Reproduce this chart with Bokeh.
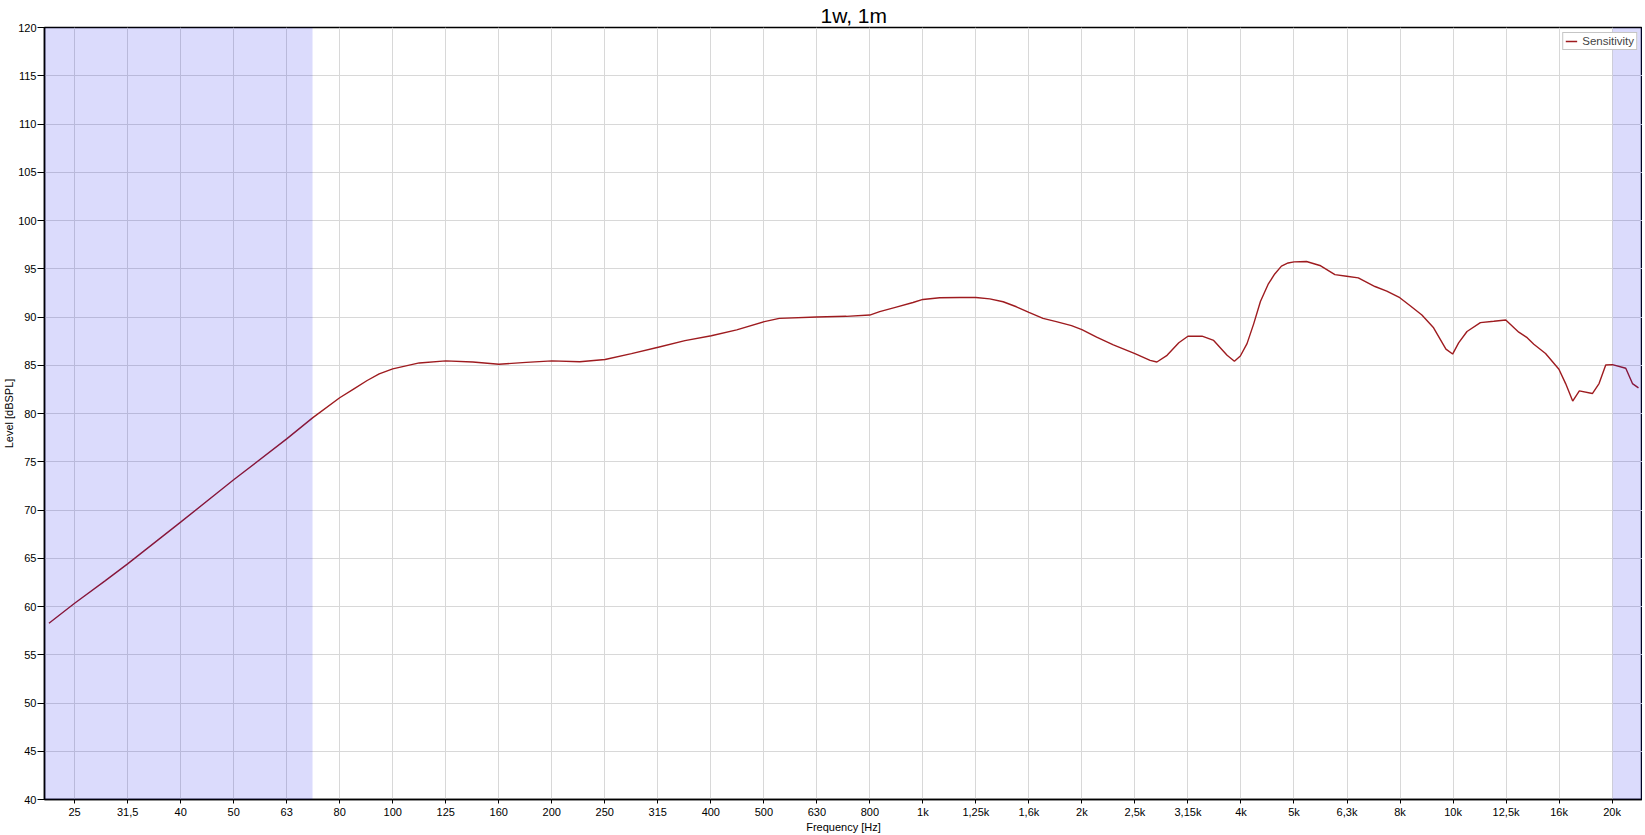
from bokeh.plotting import figure
from bokeh.models import Range1d, FixedTicker, BoxAnnotation, Legend, LegendItem
from bokeh.embed import file_html
from bokeh.resources import INLINE

# ---- data ----
FREQ = [22.47, 25.12, 28.67, 31.62, 39.81, 50.12, 63.10, 70.6, 79.43, 84.5, 89.5, 94.3,
        100, 112.2, 125.9, 141.6, 158.6, 178.6, 199.8, 225.3, 251.5, 282.1, 316.8, 355.8,
        399, 445.5, 502.4, 536, 631, 717, 794, 829, 891, 958, 1000, 1076, 1174, 1259,
        1337, 1417, 1501, 1585, 1685, 1785, 1907, 1995, 2127, 2287, 2512, 2683, 2763,
        2888, 3039, 3162, 3362, 3536, 3748, 3869, 3970,
        4087, 4207, 4332, 4478, 4610, 4746, 4885, 5015, 5291, 5608, 5987, 6299, 6627,
        7124, 7499, 7936, 8302, 8735, 9190, 9696, 9981, 10246, 10625, 11261, 11935,
        12573, 13305, 13798, 14204, 14945, 15839, 16307, 16814, 17308, 18316, 18855,
        19409, 19981, 21174, 21798, 22377]
LEVEL = [58.27, 60.34, 62.66, 64.42, 68.74, 73.13, 77.37, 79.55, 81.63, 82.56, 83.42, 84.11,
         84.63, 85.24, 85.45, 85.34, 85.10, 85.30, 85.45, 85.37, 85.60, 86.20, 86.87, 87.55,
         88.06, 88.67, 89.52, 89.86, 90.00, 90.07, 90.20, 90.55, 91.03, 91.50, 91.82, 91.99,
         92.02, 92.02, 91.88, 91.58, 91.06, 90.48, 89.86, 89.52, 89.11, 88.70, 87.91, 87.12,
         86.20, 85.51, 85.34, 86.03, 87.33, 88.01, 88.01, 87.57, 86.03, 85.41, 85.96,
         87.24, 89.29, 91.60, 93.37, 94.46, 95.27, 95.60, 95.71, 95.75, 95.34,
         94.39, 94.22, 94.05, 93.16, 92.69, 92.00, 91.16, 90.20, 88.88, 86.67, 86.16, 87.31,
         88.50, 89.42, 89.56, 89.69, 88.43, 87.86, 87.18, 86.22, 84.59, 83.10, 81.29, 82.35,
         82.07, 83.10, 85.03, 85.07, 84.69, 83.10, 82.65]

X_TICK_LABELS = ["25", "31,5", "40", "50", "63", "80", "100", "125", "160", "200", "250",
                 "315", "400", "500", "630", "800", "1k", "1,25k", "1,6k", "2k", "2,5k",
                 "3,15k", "4k", "5k", "6,3k", "8k", "10k", "12,5k", "16k", "20k"]
X_TICK_EXP = list(range(14, 44))          # ticks at 10**(n/10)
Y_TICKS = list(range(40, 121, 5))
X_LIMITS = (22.04, 22770)
Y_LIMITS = (40, 120)
BAND_LOW_END = 70.6
BAND_HIGH_START = 20000
TITLE = "1w, 1m"
SERIES = "Sensitivity"

FONT = "Liberation Sans"
LINE_COLOR = "#9E1B1F"

x_ticks = [10 ** (n / 10) for n in X_TICK_EXP]

p = figure(frame_width=1598, frame_height=772, x_axis_type="log",
           x_range=Range1d(*X_LIMITS), y_range=Range1d(*Y_LIMITS),
           output_backend="svg", toolbar_location=None,
           min_border_left=38, min_border_right=0, min_border_top=19, min_border_bottom=0)

p.background_fill_color = "white"
p.border_fill_color = "white"
p.outline_line_color = "black"
p.outline_line_width = 1.5

# title
p.title.text = TITLE
p.title.align = "left"
p.title.text_font = FONT
p.title.text_font_size = "21px"
p.title.text_font_style = "normal"
p.title.text_color = "black"
p.title.standoff = 2
p.title.offset = 776

# axes
xa = p.xaxis[0]
xa.ticker = FixedTicker(ticks=x_ticks)
xa.major_label_overrides = {t: l for t, l in zip(x_ticks, X_TICK_LABELS)}
xa.axis_label = "Frequency [Hz]"
ya = p.yaxis[0]
ya.ticker = FixedTicker(ticks=Y_TICKS)
ya.axis_label = "Level [dBSPL]"

for ax in (xa, ya):
    ax.axis_label_text_font = FONT
    ax.axis_label_text_font_size = "11px"
    ax.axis_label_text_font_style = "normal"
    ax.axis_label_text_color = "black"
    ax.major_label_text_font = FONT
    ax.major_label_text_font_size = "11px"
    ax.major_label_text_color = "black"
    ax.axis_line_color = "black"
    ax.axis_line_width = 1.5
    ax.major_tick_line_color = "black"
    ax.major_tick_in = 0
    ax.minor_tick_line_color = None

xa.major_tick_out = 4
xa.major_label_standoff = 2
xa.axis_label_standoff = 0
ya.major_tick_out = 7
ya.major_label_standoff = 1
ya.axis_label_standoff = 0

p.xgrid.grid_line_color = "#d8d8d8"
p.ygrid.grid_line_color = "#d8d8d8"

# curve
r = p.line(FREQ, LEVEL, line_color=LINE_COLOR, line_width=1.4)

legend = Legend(items=[LegendItem(label=SERIES, renderers=[r])], location="top_right")
legend.margin = 5
legend.padding = 2
legend.spacing = 0
legend.glyph_width = 12
legend.glyph_height = 12
legend.label_height = 12
legend.label_standoff = 5
legend.label_text_font = FONT
legend.label_text_font_size = "11.5px"
legend.border_line_color = "#8c8c8c"
legend.border_line_width = 1
legend.background_fill_alpha = 1.0
p.add_layout(legend)

# shaded bands (drawn over everything, semi-transparent)
band_kw = dict(fill_color="#0000ea", fill_alpha=0.141, line_color=None, level="overlay")
p.add_layout(BoxAnnotation(right=BAND_LOW_END, **band_kw))
p.add_layout(BoxAnnotation(left=BAND_HIGH_START, **band_kw))

open("out.html", "w").write(file_html(p, INLINE))
